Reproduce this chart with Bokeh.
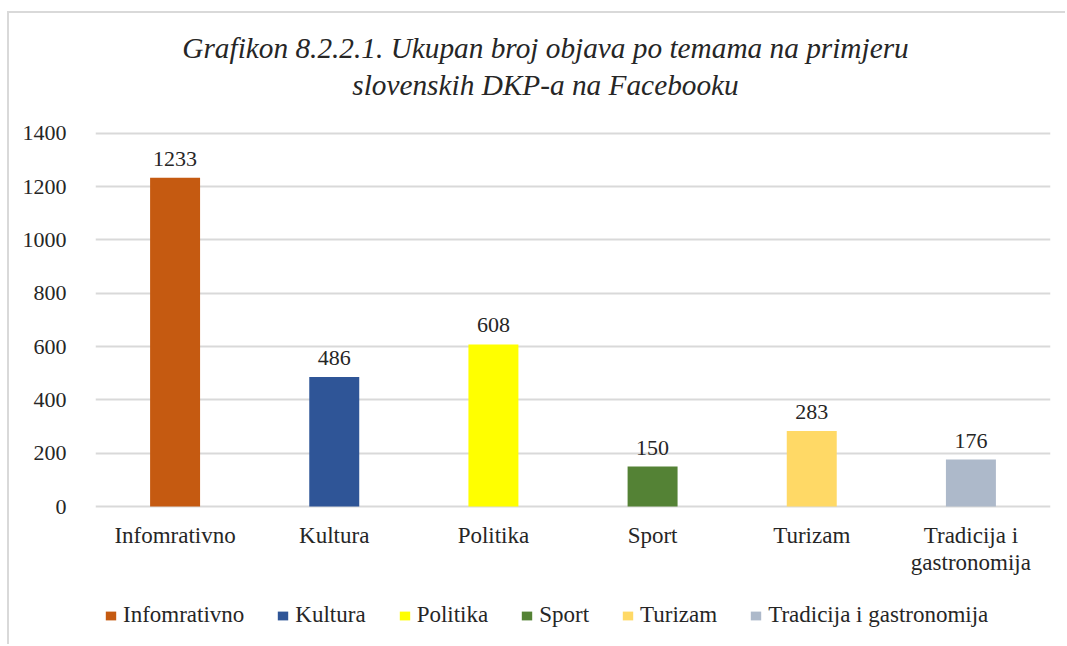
from bokeh.plotting import figure
from bokeh.models import ColumnDataSource, FactorRange, Range1d, FixedTicker, Label
from bokeh.core.properties import value
from bokeh.embed import file_html
from bokeh.resources import INLINE

categories = ["Infomrativno", "Kultura", "Politika", "Sport", "Turizam", "Tradicija i gastronomija"]
x_labels = ["Infomrativno", "Kultura", "Politika", "Sport", "Turizam", "Tradicija i\ngastronomija"]
counts = [1233, 486, 608, 150, 283, 176]
colors = ["#C55A11", "#2F5597", "#FFFF00", "#548235", "#FFD966", "#ADB9CA"]
y_ticks = [0, 200, 400, 600, 800, 1000, 1200, 1400]
title_lines = ["Grafikon 8.2.2.1. Ukupan broj objava po temama na primjeru",
               "slovenskih DKP-a na Facebooku"]

FONT = "Liberation Serif"
TXT = "#262626"

source = ColumnDataSource(dict(cat=categories, val=counts, color=colors,
                               label=[str(v) for v in counts], xlab=x_labels,
                               zero=[0] * len(counts)))

# frame covers the whole canvas except the y-axis strip; the y range is
# extended so that 0..1400 sits where the reference puts it
p = figure(x_range=FactorRange(*categories), y_range=Range1d(-525.0, 1848.9),
           width=1058, height=633, output_backend="svg", toolbar_location=None,
           x_axis_location=None,
           min_border_left=86, min_border_right=17, min_border_top=0, min_border_bottom=0)
p.styles = {"border-top": "2px solid #d9d9d9", "border-left": "2px solid #d9d9d9",
            "margin-top": "11px", "margin-left": "7px"}
p.outline_line_color = None
p.background_fill_color = "white"
p.border_fill_color = "white"

p.vbar(x="cat", top="val", width=0.314, source=source, fill_color="color", line_color=None,
       legend_field="cat")

# value labels
p.text(x="cat", y="val", text="label", source=source, text_align="center",
       text_baseline="bottom", y_offset=-12, text_font=value(FONT),
       text_font_size="22px", text_color=TXT)

# category labels
p.text(x="cat", y="zero", text="xlab", source=source, text_align="center",
       text_baseline="top", y_offset=16, text_font=value(FONT), text_line_height=1.1,
       text_font_size="23px", text_color=TXT)

p.xgrid.grid_line_color = None
p.ygrid.grid_line_color = "#d9d9d9"
p.ygrid.grid_line_width = 2
p.yaxis.ticker = FixedTicker(ticks=y_ticks)
p.yaxis.axis_line_color = None
p.yaxis.major_tick_line_color = None
p.yaxis.minor_tick_line_color = None
p.yaxis.major_label_text_font = FONT
p.yaxis.major_label_text_font_size = "22px"
p.yaxis.major_label_text_color = TXT
p.yaxis.major_label_standoff = 23

for t, yy in zip(title_lines, [599, 562]):
    p.add_layout(Label(x=450, y=yy, x_units="screen", y_units="screen", text=t,
                       text_align="center", text_baseline="middle", text_font=FONT,
                       text_font_style="italic", text_font_size="29.3px", text_color=TXT))

leg = p.legend[0]
leg.orientation = "horizontal"
leg.location = (9, 18)
leg.padding = 0
leg.margin = 0
leg.spacing = 32
leg.glyph_width = 13
leg.glyph_height = 11
leg.label_standoff = 6
leg.border_line_color = None
leg.background_fill_alpha = 0
leg.label_text_font = FONT
leg.label_text_font_size = "23px"
leg.label_text_color = TXT

open("out.html", "w").write(file_html(p, INLINE))
